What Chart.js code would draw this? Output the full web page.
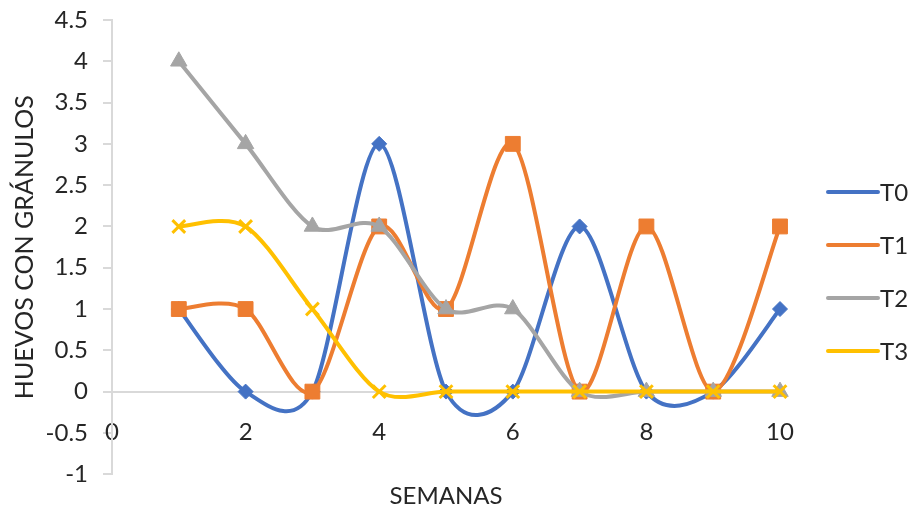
<!DOCTYPE html>
<html lang="es">
<head>
<meta charset="utf-8">
<title>Huevos con gránulos por semana</title>
<script src="https://cdn.jsdelivr.net/npm/chart.js@4.4.1/dist/chart.umd.min.js"></script>
<style>
  html, body { margin: 0; padding: 0; background: #ffffff; }
  #wrap { width: 912px; height: 511px; }
</style>
</head>
<body>
<div id="wrap"><canvas id="chart" width="912" height="511"></canvas></div>
<script>
// Weeks of observation
const semanas = [1, 2, 3, 4, 5, 6, 7, 8, 9, 10];

// Eggs with granules per treatment
const t0 = [1, 0, 0, 3, 0, 0, 2, 0, 0, 1];
const t1 = [1, 1, 0, 2, 1, 3, 0, 2, 0, 2];
const t2 = [4, 3, 2, 2, 1, 1, 0, 0, 0, 0];
const t3 = [2, 2, 1, 0, 0, 0, 0, 0, 0, 0];

const seriesNames = ['T0', 'T1', 'T2', 'T3'];
const seriesValues = [t0, t1, t2, t3];
const seriesColors = ['#4472C4', '#ED7D31', '#A5A5A5', '#FFC000'];
const seriesMarkers = ['rectRot', 'rect', 'triangle', 'crossRot'];
const markerRadius = [7.5, 10.5, 9.5, 9];

const FONT = 'Lato, "Open Sans", "Noto Sans", sans-serif';
const TEXT = '#262626';
const AXIS = '#d9d9d9';

// Arm length of the smoothing control points (evenly weighted)
const SMOOTH = 0.15;

const datasets = seriesNames.map((name, i) => ({
  label: name,
  data: semanas.map((w, k) => ({ x: w, y: seriesValues[i][k] })),
  borderColor: seriesColors[i],
  backgroundColor: seriesColors[i],
  borderWidth: 4,
  tension: 0.4,
  pointStyle: seriesMarkers[i],
  pointRadius: markerRadius[i],
  pointHoverRadius: markerRadius[i],
  pointBorderWidth: seriesMarkers[i] === 'crossRot' ? 3 : 1,
  pointBorderColor: seriesColors[i],
  pointBackgroundColor: seriesColors[i],
  order: seriesNames.length - i,
  clip: false
}));

// Smooth lines with evenly weighted control points
const evenSmoothing = {
  id: 'evenSmoothing',
  beforeDatasetDraw(chart, args) {
    const meta = args.meta;
    if (!meta.dataset || !meta.data.length) return;
    meta.dataset.updateControlPoints(chart.chartArea);
    const pts = meta.data;
    pts.forEach((p, k) => {
      const prev = pts[k - 1] || p;
      const next = pts[k + 1] || p;
      const dx = (next.x - prev.x) * SMOOTH;
      const dy = (next.y - prev.y) * SMOOTH;
      p.cp1x = p.x - dx;
      p.cp1y = p.y - dy;
      p.cp2x = p.x + dx;
      p.cp2y = p.y + dy;
    });
  }
};

// Legend on the right: line sample with the marker in its middle
const sideLegend = {
  id: 'sideLegend',
  afterDraw(chart) {
    const { ctx, chartArea } = chart;
    const x0 = chartArea.right + 48;
    const x1 = x0 + 50;
    const yStart = chartArea.top + 172;
    const step = 53;
    ctx.save();
    chart.data.datasets.forEach((ds, i) => {
      const y = yStart + i * step;
      ctx.strokeStyle = ds.borderColor;
      ctx.lineWidth = 4;
      ctx.lineCap = 'round';
      ctx.beginPath();
      ctx.moveTo(x0, y);
      ctx.lineTo(x1, y);
      ctx.stroke();
      ctx.fillStyle = ds.pointBackgroundColor;
      ctx.strokeStyle = ds.pointBorderColor;
      ctx.lineWidth = ds.pointBorderWidth;
      Chart.helpers.drawPoint(ctx, {
        pointStyle: ds.pointStyle,
        rotation: 0,
        borderWidth: ds.pointBorderWidth
      }, (x0 + x1) / 2, y);
      ctx.fillStyle = TEXT;
      ctx.font = '24px ' + FONT;
      ctx.textAlign = 'left';
      ctx.textBaseline = 'middle';
      ctx.fillText(ds.label, x1 + 2, y + 1);
    });
    ctx.restore();
  }
};

new Chart(document.getElementById('chart'), {
  type: 'line',
  data: { datasets },
  plugins: [evenSmoothing, sideLegend],
  options: {
    responsive: false,
    animation: false,
    layout: { padding: { top: 20, right: 132, left: 0, bottom: 0 } },
    plugins: {
      legend: { display: false },
      tooltip: { enabled: false },
      title: {
        display: true,
        text: 'SEMANAS',
        position: 'bottom',
        fullSize: false,
        color: TEXT,
        font: { family: FONT, size: 24, weight: 'normal' },
        padding: { top: 8, bottom: 0 }
      }
    },
    scales: {
      x: {
        type: 'linear',
        position: { y: 0 },
        min: 0,
        max: 10,
        ticks: {
          stepSize: 2,
          padding: 26,
          color: TEXT,
          font: { family: FONT, size: 24 }
        },
        grid: { display: false, drawTicks: false, drawOnChartArea: false },
        border: { display: true, color: AXIS, width: 2 }
      },
      y: {
        type: 'linear',
        position: 'left',
        min: -1,
        max: 4.5,
        afterFit(scale) {
          scale.width = 112;
          scale.paddingTop = 14;
          scale.paddingBottom = 14;
        },
        ticks: {
          stepSize: 0.5,
          padding: 15,
          color: TEXT,
          font: { family: FONT, size: 24 },
          callback: (v) => String(Math.round(v * 10) / 10)
        },
        grid: {
          drawOnChartArea: false,
          drawTicks: true,
          tickLength: 9,
          color: AXIS,
          lineWidth: 2
        },
        border: { display: true, color: AXIS, width: 2 },
        title: {
          display: true,
          text: 'HUEVOS CON GRÁNULOS',
          color: TEXT,
          font: { family: FONT, size: 25 },
          padding: { top: 10, bottom: 0 }
        }
      }
    }
  }
});
</script>
</body>
</html>
